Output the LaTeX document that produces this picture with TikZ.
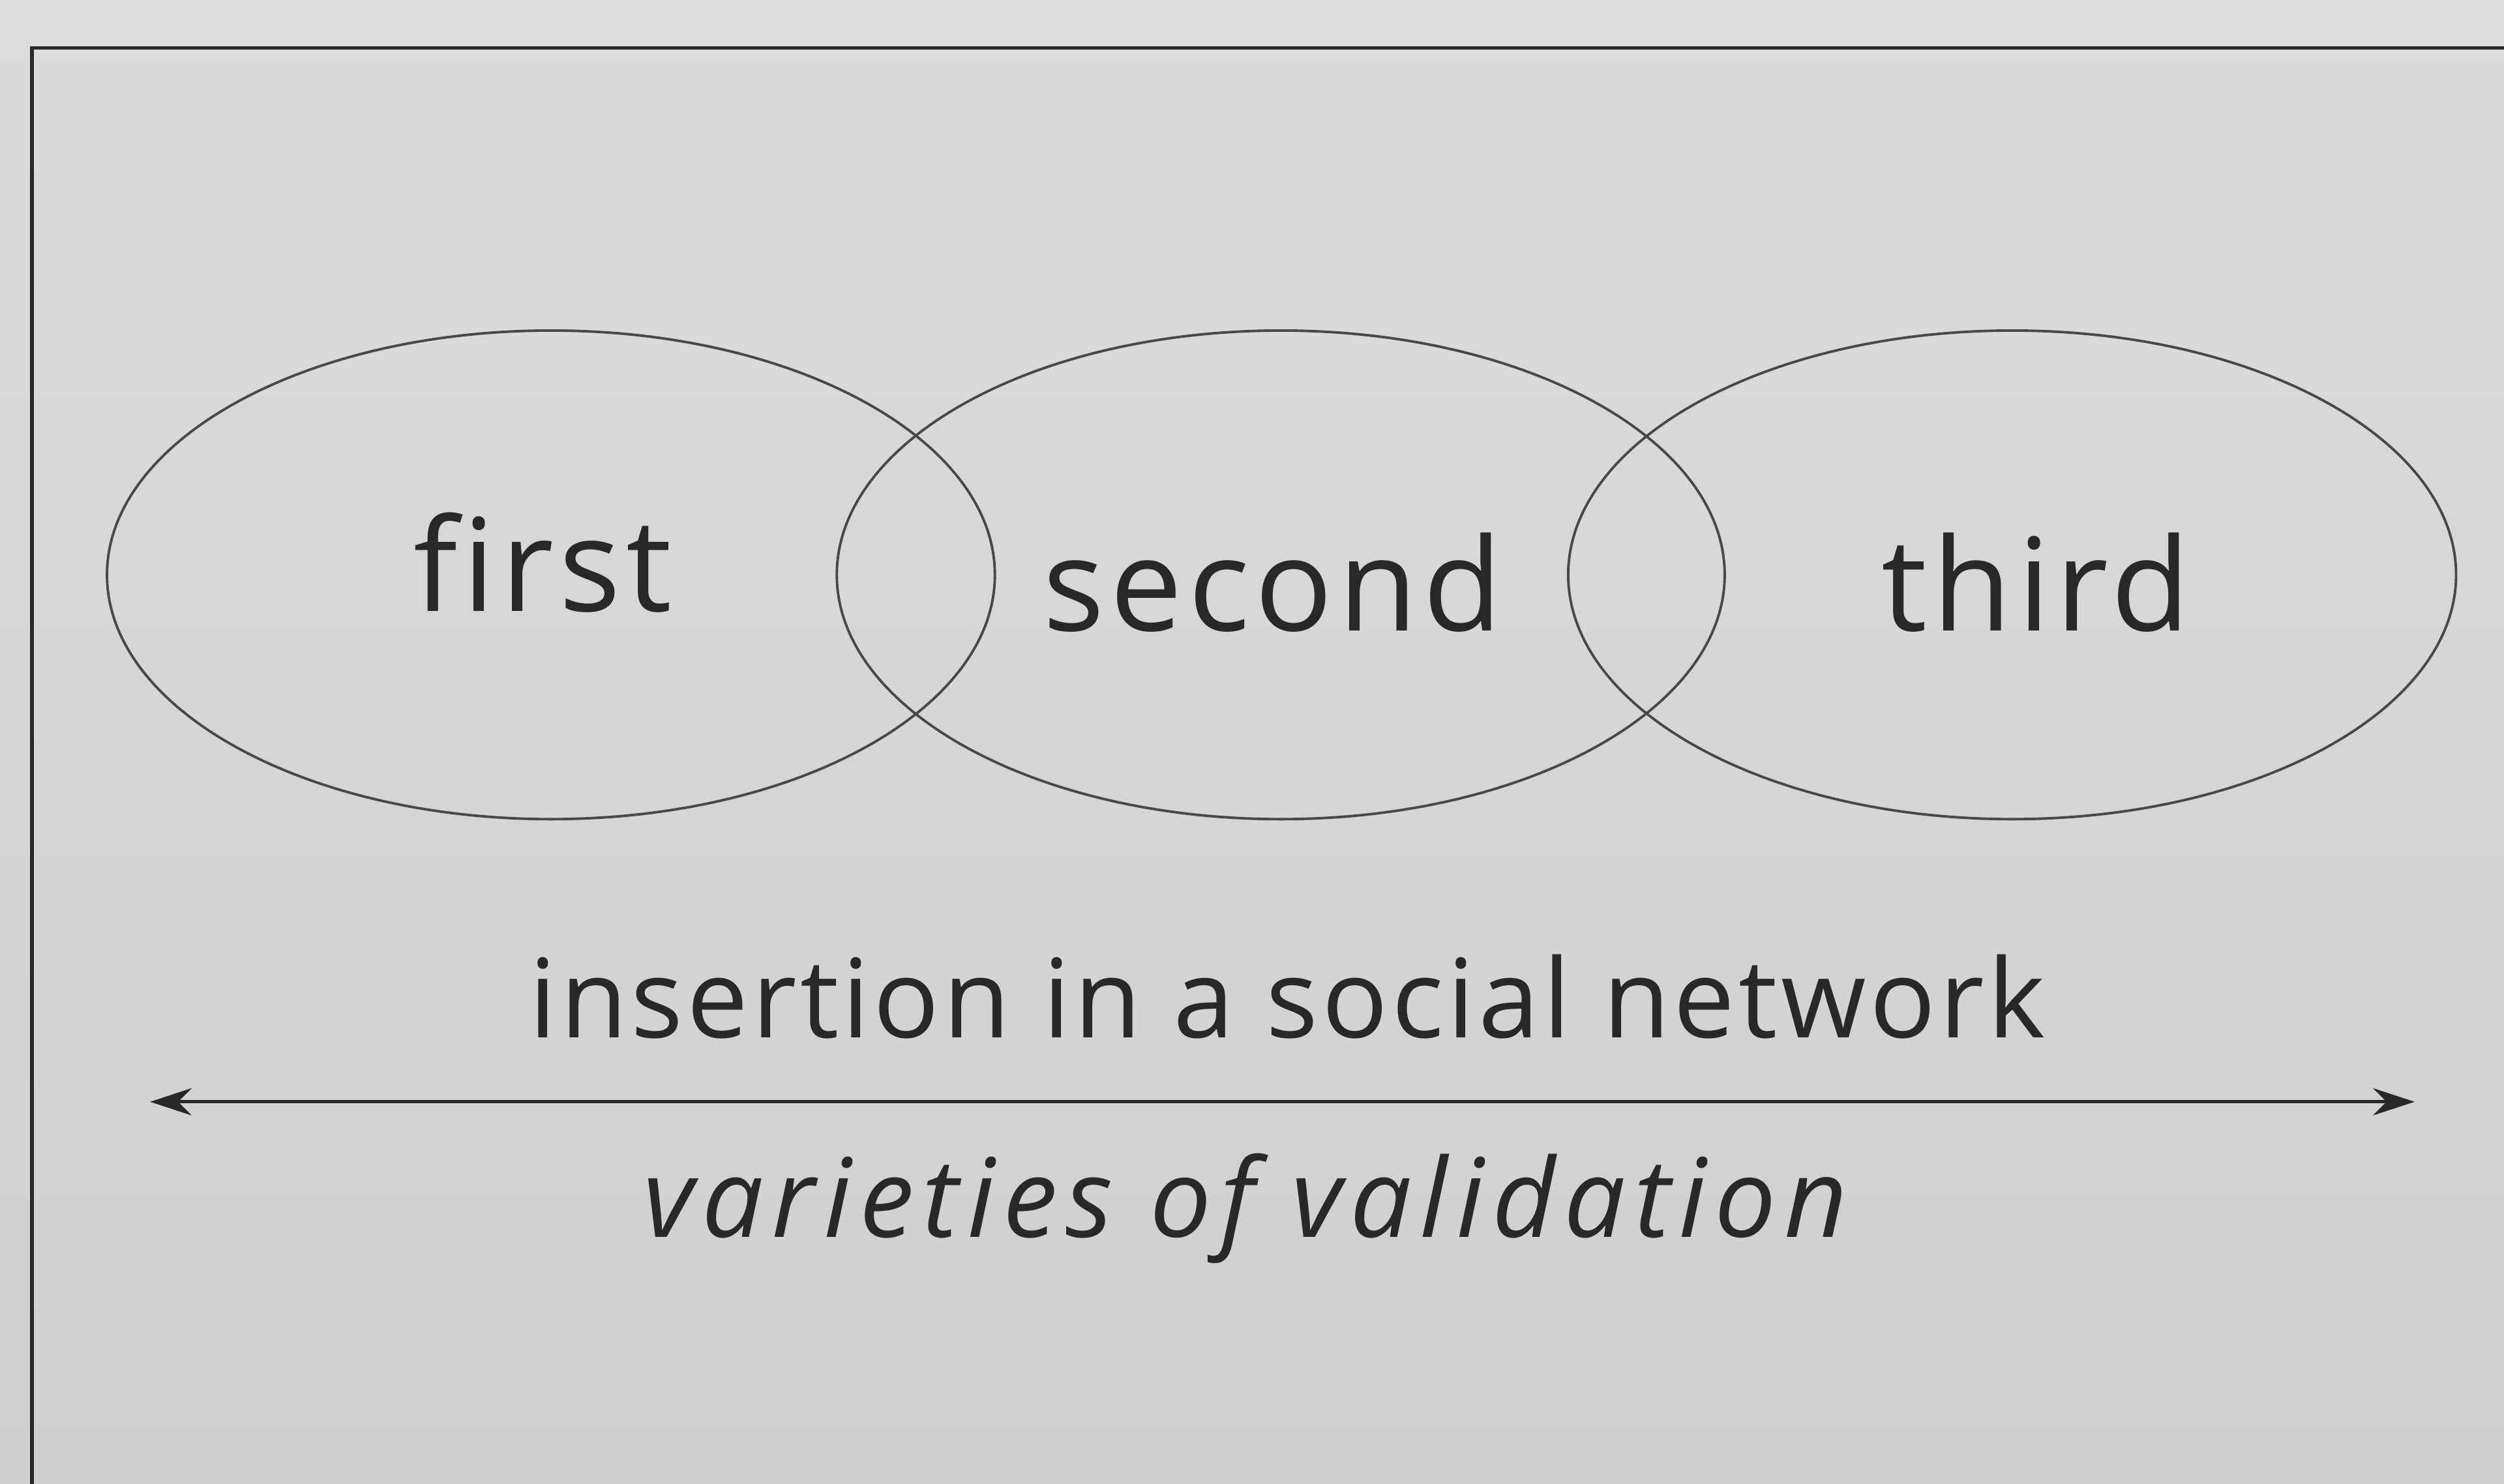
\documentclass[tikz,border=0pt]{standalone}
\usepackage{fontspec}
\setmainfont[Ligatures=NoCommon]{Open Sans}
\usetikzlibrary{shapes.geometric, arrows.meta}
\definecolor{paper}{RGB}{220,220,220}
\definecolor{paperdark}{RGB}{207,207,207}
\definecolor{ink}{RGB}{40,40,40}
\tikzstyle{bubble} = [ellipse, draw=ink!85, line width=0.45pt, minimum width=5.56cm, minimum height=3.06cm, inner sep=0pt]
\tikzstyle{word} = [anchor=base, inner sep=0pt, text=ink, font=\fontsize{23}{28}\selectfont\addfontfeature{LetterSpace=4.3}]
\tikzstyle{caption} = [anchor=base, inner sep=0pt, text=ink, font=\fontsize{19.5}{24}\selectfont\addfontfeature{LetterSpace=3.3}]
\tikzstyle{arrow} = [line width=0.6pt, draw=ink, {Stealth[length=2.6mm, width=1.7mm]}-{Stealth[length=2.6mm, width=1.7mm]}]

\begin{document}
\begin{tikzpicture}[x=0.1mm, y=-0.1mm]
      \useasboundingbox (0,0) rectangle (1568,929);
      \clip (0,0) rectangle (1568,929);
      \shade [top color=paper, bottom color=paperdark] (0,0) rectangle (1568,929);
      % Frame
      \draw [ink, line width=0.6pt] (1600,30) -- (20,30) -- (20,960);
      % Ellipses
      \node (first) [bubble] at (345,360) {};
      \node (second) [bubble] at (802,360) {};
      \node (third) [bubble] at (1260,360) {};
      \node (firstlbl) [word] at (340,383) {first};
      \node (secondlbl) [word] at (797,395) {second};
      \node (thirdlbl) [word] at (1275,395) {third};
      % Axis
      \coordinate (axisL) at (94,690);
      \coordinate (axisR) at (1512,690);
      \node (insertion) [caption] at (806,650) {insertion in a social network};
      \node (varieties) [caption, font=\fontsize{19.5}{24}\selectfont\itshape\addfontfeature{LetterSpace=7.7}] at (780,775) {varieties of validation};
      \draw [arrow] (axisL) -- (axisR);
    \end{tikzpicture}
\end{document}
